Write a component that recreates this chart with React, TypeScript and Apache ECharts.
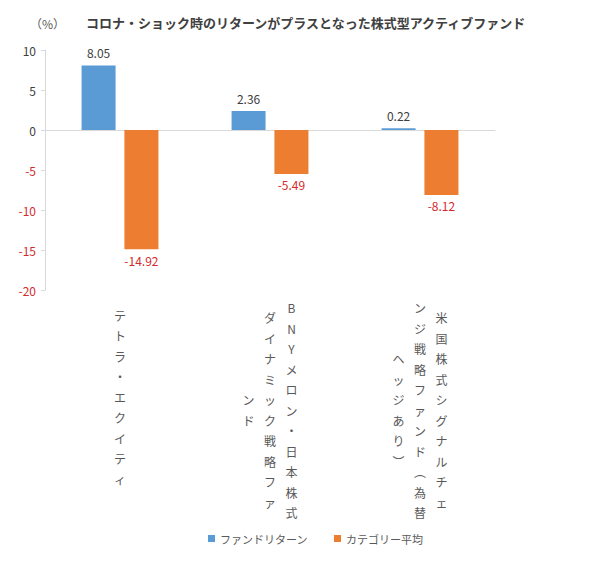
import React, { useEffect, useRef } from "react";
import * as echarts from "echarts";

const categories = [
  "テトラ・エクイティ",
  "BNYメロン・日本株式ダイナミック戦略ファンド",
  "米国株式シグナルチェンジ戦略ファンド（為替ヘッジあり）",
];
// vertical label columns, right-to-left
const categoryLabelColumns = [
  ["テトラ・エクイティ"],
  ["BNYメロン・日本株式", "ダイナミック戦略ファ", "ンド"],
  ["米国株式シグナルチェ", "ンジ戦略ファンド︵為替", "ヘッジあり︶"],
];
const fundReturn = [8.05, 2.36, 0.22];
const categoryAverage = [-14.92, -5.49, -8.12];
const seriesNames = ["ファンドリターン", "カテゴリー平均"];
const titleText = "コロナ・ショック時のリターンがプラスとなった株式型アクティブファンド";
const unitText = "（%）";

const FONT = '"Noto Sans CJK JP", "Noto Sans", sans-serif';
const RED = "#d42a2a";
const GRAY = "#404040";

export default function App() {
  const ref = useRef<HTMLDivElement>(null);
  useEffect(() => {
    if (!ref.current) return;
    const chart = echarts.init(ref.current, undefined, { renderer: "svg" });
    const option: any = {
      animation: false,
      textStyle: { fontFamily: FONT },
      title: [
        {
          text: unitText,
          left: 25,
          top: 12,
          textStyle: { fontSize: 12, fontWeight: "normal", color: "#595959", fontFamily: FONT },
        },
        {
          text: titleText,
          left: 81,
          top: 11,
          textStyle: { fontSize: 13, fontWeight: "bold", color: "#404040", fontFamily: FONT },
        },
      ],
      grid: { left: 45, right: 110, top: 50, bottom: 273, containLabel: false },
      legend: {
        left: 203,
        top: 528,
        icon: "rect",
        itemWidth: 7,
        itemHeight: 7,
        itemGap: 26,
        textStyle: { fontSize: 11, color: "#595959", fontFamily: FONT },
        data: seriesNames,
      },
      xAxis: {
        type: "category",
        data: categories,
        axisLine: { show: true, lineStyle: { color: "#d9d9d9", width: 1 } },
        axisTick: { show: false },
        axisLabel: { show: false },
      },
      yAxis: {
        type: "value",
        min: -20,
        max: 10,
        interval: 5,
        axisLine: { show: true, lineStyle: { color: "#d9d9d9" } },
        axisTick: { show: true, length: 4, lineStyle: { color: "#d9d9d9" } },
        splitLine: { show: false },
        axisLabel: {
          fontSize: 12,
          margin: 9,
          fontFamily: FONT,
          color: (v: any) => (Number(v) < 0 ? RED : GRAY),
        },
      },
      series: [
        {
          name: seriesNames[0],
          type: "bar",
          data: fundReturn,
          barWidth: 34,
          barGap: "26%",
          itemStyle: { color: "#5b9bd5" },
          label: {
            show: true,
            position: "top",
            distance: 7,
            fontSize: 12,
            color: GRAY,
            fontFamily: FONT,
            formatter: (p: any) => p.value.toFixed(2),
          },
        },
        {
          name: seriesNames[1],
          type: "bar",
          data: categoryAverage,
          barWidth: 34,
          itemStyle: { color: "#ed7d31" },
          label: {
            show: true,
            position: "bottom",
            distance: 5,
            fontSize: 12,
            color: RED,
            fontFamily: FONT,
            formatter: (p: any) => p.value.toFixed(2),
          },
        },
      ],
    };
    chart.setOption(option);

    const colGap = 21.5;
    const lineH = 20.5;
    const centerY = [397, 410, 410];
    const elements: any[] = [];
    categories.forEach((cat, i) => {
      const cx = chart.convertToPixel({ xAxisIndex: 0 }, cat) as number;
      const cols = categoryLabelColumns[i];
      const n = cols.length;
      cols.forEach((col, j) => {
        const x = cx + ((n - 1) / 2 - j) * colGap;
        elements.push({
          type: "text",
          x,
          y: centerY[i],
          style: {
            text: Array.from(col).join("\n"),
            fontSize: 12,
            lineHeight: lineH,
            fontFamily: FONT,
            fill: "#595959",
            align: "center",
            verticalAlign: "middle",
          },
        });
      });
    });
    chart.setOption({ graphic: elements });

    return () => chart.dispose();
  }, []);
  return (
    <div
      ref={ref}
      style={{ position: "fixed", left: 0, top: 0, width: 605, height: 563, background: "#fff" }}
    />
  );
}
